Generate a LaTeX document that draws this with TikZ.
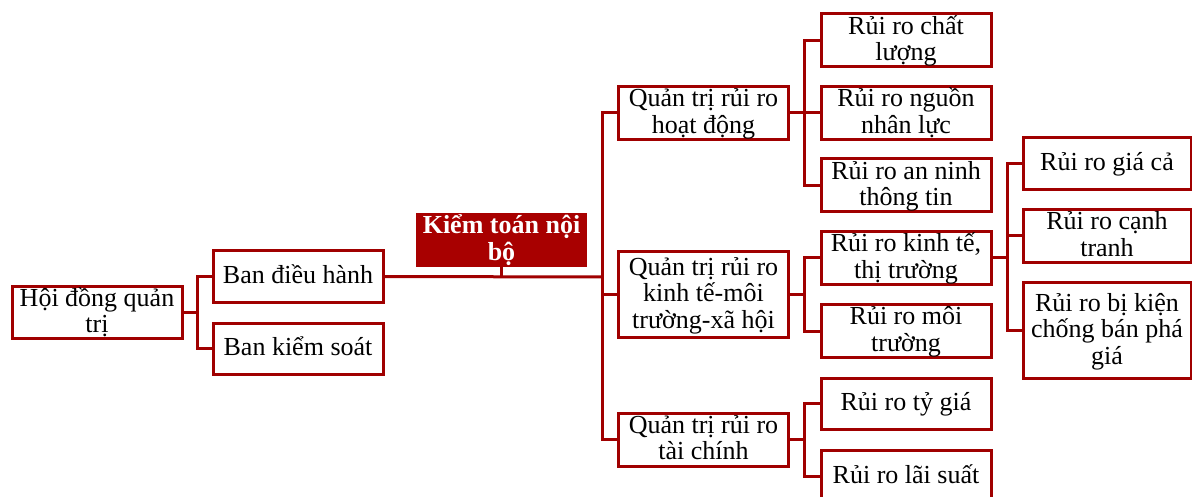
\documentclass[tikz,border=0pt]{standalone}
\usepackage{fontspec}
\setmainfont{Liberation Serif}
\definecolor{dred}{RGB}{160,0,0}
\definecolor{kred}{RGB}{168,0,0}
\newcommand\lnx[1]{\rule[-6pt]{0pt}{26pt}\smash{#1}}
\begin{document}
\begin{tikzpicture}[x=1pt,y=-1pt,
  box/.style={draw=dred,line width=3pt,fill=white,inner sep=0pt,align=center,
    minimum width=170pt,font=\fontsize{26}{26.5}\selectfont},
  kbox/.style={fill=kred,inner sep=0pt,align=center,text=white,
    minimum width=171pt,minimum height=54pt,font=\fontsize{26}{26.5}\selectfont\bfseries},
  conn/.style={draw=dred,line width=3pt}]
\useasboundingbox (0,0) rectangle (1192,497);
% level 0-1
\node[box,minimum height=51pt] (hdqt) at (97,312.5) {\lnx{Hội đồng quản}\\\lnx{trị}};
\node[box,minimum height=51pt] (bdh) at (298,276.5) {\lnx{Ban điều hành}};
\node[box,minimum height=51pt] (bks) at (298,348.5) {\lnx{Ban kiểm soát}};
\node[kbox] (ktnb) at (501.5,240) {\lnx{Kiểm toán nội}\\\lnx{bộ}};
% level 2
\node[box,minimum height=52pt] (qt1) at (703.5,113) {\lnx{Quản trị rủi ro}\\\lnx{hoạt động}};
\node[box,minimum height=85pt] (qt2) at (703.5,294.5) {\lnx{Quản trị rủi ro}\\\lnx{kinh tế-môi}\\\lnx{trường-xã hội}};
\node[box,minimum height=53pt] (qt3) at (703.5,439.5) {\lnx{Quản trị rủi ro}\\\lnx{tài chính}};
% level 3
\node[box,minimum height=53pt] (r1) at (906,40.5) {\lnx{Rủi ro chất}\\\lnx{lượng}};
\node[box,minimum height=52pt] (r2) at (906,113) {\lnx{Rủi ro nguồn}\\\lnx{nhân lực}};
\node[box,minimum height=53pt] (r3) at (906,185.5) {\lnx{Rủi ro an ninh}\\\lnx{thông tin}};
\node[box,minimum height=52pt] (r4) at (906,258) {\lnx{Rủi ro kinh tế,}\\\lnx{thị trường}};
\node[box,minimum height=52pt] (r5) at (906,331) {\lnx{Rủi ro môi}\\\lnx{trường}};
\node[box,minimum height=51pt] (r6) at (906,403.5) {\lnx{Rủi ro tỷ giá}};
\node[box,minimum height=52pt] (r7) at (906,476) {\lnx{Rủi ro lãi suất}};
% level 4
\node[box,minimum width=168pt,minimum height=52pt] (s1) at (1107,164) {\lnx{Rủi ro giá cả}};
\node[box,minimum width=168pt,minimum height=52pt] (s2) at (1107,236) {\lnx{Rủi ro cạnh}\\\lnx{tranh}};
\node[box,minimum width=168pt,minimum height=95pt] (s3) at (1107,330.5) {\lnx{Rủi ro bị kiện}\\\lnx{chống bán phá}\\\lnx{giá}};
% connectors
\coordinate (j0) at (197,312.5);
\draw[conn] (hdqt.east) -- (j0);
\draw[conn] (j0) |- (bdh.west);
\draw[conn] (j0) |- (bks.west);
\coordinate (mj) at (602,277);
\draw[conn] (bdh.east) -- (mj);
\draw[conn] (ktnb.south) -- (ktnb.south |- mj);
\draw[conn] (mj) |- (qt1.west);
\draw[conn] (mj) |- (qt2.west);
\draw[conn] (mj) |- (qt3.west);
\coordinate (j1) at (804,113);
\draw[conn] (qt1.east) -- (j1);
\draw[conn] (j1) |- (r1.west);
\draw[conn] (j1) |- (r2.west);
\draw[conn] (j1) |- (r3.west);
\coordinate (j2) at (804,294.5);
\draw[conn] (qt2.east) -- (j2);
\draw[conn] (j2) |- (r4.west);
\draw[conn] (j2) |- (r5.west);
\coordinate (j3) at (804,439.5);
\draw[conn] (qt3.east) -- (j3);
\draw[conn] (j3) |- (r6.west);
\draw[conn] (j3) |- (r7.west);
\coordinate (j4) at (1007,258);
\draw[conn] (r4.east) -- (j4);
\draw[conn] (j4) |- (s1.west);
\draw[conn] (j4) |- (s2.west);
\draw[conn] (j4) |- (s3.west);
\end{tikzpicture}
\end{document}
